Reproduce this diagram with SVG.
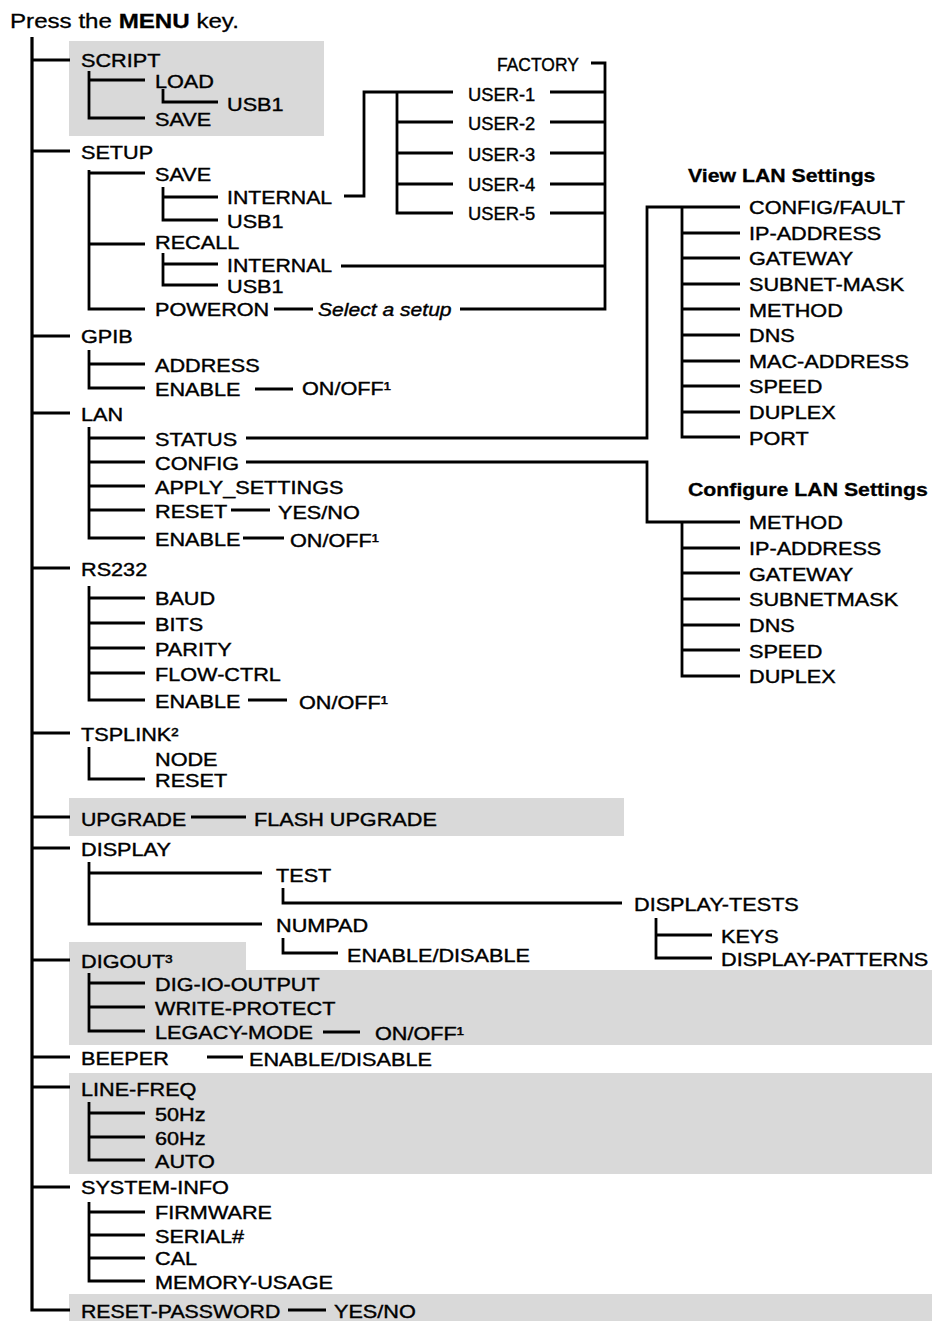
<svg xmlns="http://www.w3.org/2000/svg" width="932" height="1321" viewBox="0 0 932 1321">
<style>
text{font-family:"Liberation Sans",Arial,Helvetica,sans-serif;font-size:19px;fill:#000;stroke:#000;stroke-width:0.4}
.title{font-size:21px;stroke-width:0.3}
.h{font-weight:bold;font-size:18.5px;stroke-width:0.3}
.it{font-style:italic}
.b{font-weight:bold}
.bg{fill:#d9d9d9}
#connectors path{stroke:#000;stroke-width:2.8;fill:none;stroke-linejoin:miter;stroke-linecap:butt}
#connectors path.trunk{stroke-width:3.2}
</style>
<rect width="932" height="1321" fill="#fff"/>
<g id="shading">
<rect class="bg" x="69" y="41" width="255" height="95"/>
<rect class="bg" x="69" y="798" width="555" height="38"/>
<path class="bg" d="M69,942H246V970H932V1045H69Z"/>
<rect class="bg" x="69" y="1073" width="863" height="101"/>
<rect class="bg" x="69" y="1294" width="863" height="27"/>
</g>
<g id="connectors">
<path class="trunk" d="M32,37V1310H70"/>
<path d="M32,60H70M32,151H70M32,336H70M32,413H70M32,568H70M32,733H70M32,817H70M32,848H70M32,960H70M32,1057H70M32,1087H70M32,1187H70"/>
<path d="M89,71V118H145M89,80H145M163,89V102H218"/>
<path d="M89,170V309H145M89,173H145M89,244H145"/>
<path d="M163,187V220H218M163,197H218M163,253V285H218M163,264H218"/>
<path d="M344,196H364V92H453M397,92V213H453M397,122H453M397,153H453M397,184H453"/>
<path d="M550,92H605M550,122H605M550,153H605M550,184H605M550,213H605M591,63H605V309H460M341,266H605M274,309H313"/>
<path d="M89,350V388H145M89,364H145M255,389H293"/>
<path d="M89,427V538H145M89,438H145M89,462H145M89,486H145M89,510H145M231,510H270M243,538H284"/>
<path d="M246,438H647V207H740M682,207V437H740M682,233H740M682,258H740M682,284H740M682,309H740M682,335H740M682,361H740M682,386H740M682,412H740"/>
<path d="M246,462H647V522H740M682,522V676H740M682,548H740M682,573H740M682,599H740M682,625H740M682,650H740"/>
<path d="M89,586V700H145M89,598H145M89,623H145M89,648H145M89,673H145M248,700H287"/>
<path d="M89,747V779H145"/>
<path d="M191,817H246"/>
<path d="M89,862V924H262M89,873H262M283,888V903H622M283,938V953H338M656,918V958H712M656,935H712"/>
<path d="M89,973V1031H145M89,983H145M89,1007H145M323,1032H360"/>
<path d="M207,1057H243"/>
<path d="M89,1102V1160H145M89,1113H145M89,1137H145"/>
<path d="M89,1202V1281H145M89,1212H145M89,1235H145M89,1258H145"/>
<path d="M288,1310H326"/>
</g>
<g id="title"><text class="title" transform="matrix(1.15 0 0 1 10 28)">Press the <tspan class="b">MENU</tspan> key.</text></g>
<g id="script">
<text transform="matrix(1.14 0 0 1 81 67)">SCRIPT</text>
<text transform="matrix(1.14 0 0 1 155 88)">LOAD</text>
<text transform="matrix(1.14 0 0 1 227 111)">USB1</text>
<text transform="matrix(1.14 0 0 1 155 126)">SAVE</text>
</g>
<g id="setup">
<text transform="matrix(1.14 0 0 1 81 159)">SETUP</text>
<text transform="matrix(1.14 0 0 1 155 181)">SAVE</text>
<text transform="matrix(1.12 0 0 1 227 204)">INTERNAL</text>
<text transform="matrix(1.14 0 0 1 227 228)">USB1</text>
<text transform="matrix(1.14 0 0 1 155 249)">RECALL</text>
<text transform="matrix(1.12 0 0 1 227 272)">INTERNAL</text>
<text transform="matrix(1.14 0 0 1 227 293)">USB1</text>
<text transform="matrix(1.14 0 0 1 155 316)">POWERON</text>
<text class="it" transform="matrix(1.11 0 0 1 318 316)">Select a setup</text>
</g>
<g id="setups">
<text transform="matrix(0.92 0 0 1 497 71)">FACTORY</text>
<text transform="matrix(0.965 0 0 1 468 101)">USER-1</text>
<text transform="matrix(0.965 0 0 1 468 130)">USER-2</text>
<text transform="matrix(0.965 0 0 1 468 161)">USER-3</text>
<text transform="matrix(0.965 0 0 1 468 191)">USER-4</text>
<text transform="matrix(0.965 0 0 1 468 220)">USER-5</text>
</g>
<g id="gpib">
<text transform="matrix(1.14 0 0 1 81 343)">GPIB</text>
<text transform="matrix(1.14 0 0 1 155 372)">ADDRESS</text>
<text transform="matrix(1.14 0 0 1 155 396)">ENABLE</text>
<text transform="matrix(1.14 0 0 1 302 395)">ON/OFF¹</text>
</g>
<g id="lan">
<text transform="matrix(1.14 0 0 1 81 421)">LAN</text>
<text transform="matrix(1.14 0 0 1 155 446)">STATUS</text>
<text transform="matrix(1.14 0 0 1 155 470)">CONFIG</text>
<text transform="matrix(1.14 0 0 1 155 494)">APPLY_SETTINGS</text>
<text transform="matrix(1.14 0 0 1 155 518)">RESET</text>
<text transform="matrix(1.14 0 0 1 278 519)">YES/NO</text>
<text transform="matrix(1.14 0 0 1 155 546)">ENABLE</text>
<text transform="matrix(1.14 0 0 1 290 547)">ON/OFF¹</text>
</g>
<g id="view-lan">
<text class="h" transform="matrix(1.15 0 0 1 688 182)">View LAN Settings</text>
<text transform="matrix(1.14 0 0 1 749 214)">CONFIG/FAULT</text>
<text transform="matrix(1.14 0 0 1 749 240)">IP-ADDRESS</text>
<text transform="matrix(1.14 0 0 1 749 265)">GATEWAY</text>
<text transform="matrix(1.14 0 0 1 749 291)">SUBNET-MASK</text>
<text transform="matrix(1.14 0 0 1 749 317)">METHOD</text>
<text transform="matrix(1.14 0 0 1 749 342)">DNS</text>
<text transform="matrix(1.14 0 0 1 749 368)">MAC-ADDRESS</text>
<text transform="matrix(1.14 0 0 1 749 393)">SPEED</text>
<text transform="matrix(1.14 0 0 1 749 419)">DUPLEX</text>
<text transform="matrix(1.14 0 0 1 749 445)">PORT</text>
</g>
<g id="config-lan">
<text class="h" transform="matrix(1.15 0 0 1 688 496)">Configure LAN Settings</text>
<text transform="matrix(1.14 0 0 1 749 529)">METHOD</text>
<text transform="matrix(1.14 0 0 1 749 555)">IP-ADDRESS</text>
<text transform="matrix(1.14 0 0 1 749 581)">GATEWAY</text>
<text transform="matrix(1.14 0 0 1 749 606)">SUBNETMASK</text>
<text transform="matrix(1.14 0 0 1 749 632)">DNS</text>
<text transform="matrix(1.14 0 0 1 749 658)">SPEED</text>
<text transform="matrix(1.14 0 0 1 749 683)">DUPLEX</text>
</g>
<g id="rs232">
<text transform="matrix(1.14 0 0 1 81 576)">RS232</text>
<text transform="matrix(1.14 0 0 1 155 605)">BAUD</text>
<text transform="matrix(1.14 0 0 1 155 631)">BITS</text>
<text transform="matrix(1.14 0 0 1 155 656)">PARITY</text>
<text transform="matrix(1.14 0 0 1 155 681)">FLOW-CTRL</text>
<text transform="matrix(1.14 0 0 1 155 708)">ENABLE</text>
<text transform="matrix(1.14 0 0 1 299 709)">ON/OFF¹</text>
</g>
<g id="tsplink">
<text transform="matrix(1.14 0 0 1 81 741)">TSPLINK²</text>
<text transform="matrix(1.14 0 0 1 155 766)">NODE</text>
<text transform="matrix(1.14 0 0 1 155 787)">RESET</text>
</g>
<g id="upgrade">
<text transform="matrix(1.12 0 0 1 81 826)">UPGRADE</text>
<text transform="matrix(1.14 0 0 1 254 826)">FLASH UPGRADE</text>
</g>
<g id="display">
<text transform="matrix(1.14 0 0 1 81 856)">DISPLAY</text>
<text transform="matrix(1.14 0 0 1 276 882)">TEST</text>
<text transform="matrix(1.14 0 0 1 276 932)">NUMPAD</text>
<text transform="matrix(1.14 0 0 1 634 911)">DISPLAY-TESTS</text>
<text transform="matrix(1.14 0 0 1 721 943)">KEYS</text>
<text transform="matrix(1.14 0 0 1 721 966)">DISPLAY-PATTERNS</text>
<text transform="matrix(1.14 0 0 1 347 962)">ENABLE/DISABLE</text>
</g>
<g id="digout">
<text transform="matrix(1.14 0 0 1 81 968)">DIGOUT³</text>
<text transform="matrix(1.14 0 0 1 155 991)">DIG-IO-OUTPUT</text>
<text transform="matrix(1.14 0 0 1 155 1015)">WRITE-PROTECT</text>
<text transform="matrix(1.14 0 0 1 155 1039)">LEGACY-MODE</text>
<text transform="matrix(1.14 0 0 1 375 1040)">ON/OFF¹</text>
</g>
<g id="beeper">
<text transform="matrix(1.14 0 0 1 81 1065)">BEEPER</text>
<text transform="matrix(1.14 0 0 1 249 1066)">ENABLE/DISABLE</text>
</g>
<g id="line-freq">
<text transform="matrix(1.14 0 0 1 81 1096)">LINE-FREQ</text>
<text transform="matrix(1.14 0 0 1 155 1121)">50Hz</text>
<text transform="matrix(1.14 0 0 1 155 1145)">60Hz</text>
<text transform="matrix(1.14 0 0 1 155 1168)">AUTO</text>
</g>
<g id="system-info">
<text transform="matrix(1.14 0 0 1 81 1194)">SYSTEM-INFO</text>
<text transform="matrix(1.14 0 0 1 155 1219)">FIRMWARE</text>
<text transform="matrix(1.14 0 0 1 155 1243)">SERIAL#</text>
<text transform="matrix(1.14 0 0 1 155 1265)">CAL</text>
<text transform="matrix(1.14 0 0 1 155 1289)">MEMORY-USAGE</text>
</g>
<g id="reset-password">
<text transform="matrix(1.12 0 0 1 81 1318)">RESET-PASSWORD</text>
<text transform="matrix(1.14 0 0 1 334 1318)">YES/NO</text>
</g>
</svg>
